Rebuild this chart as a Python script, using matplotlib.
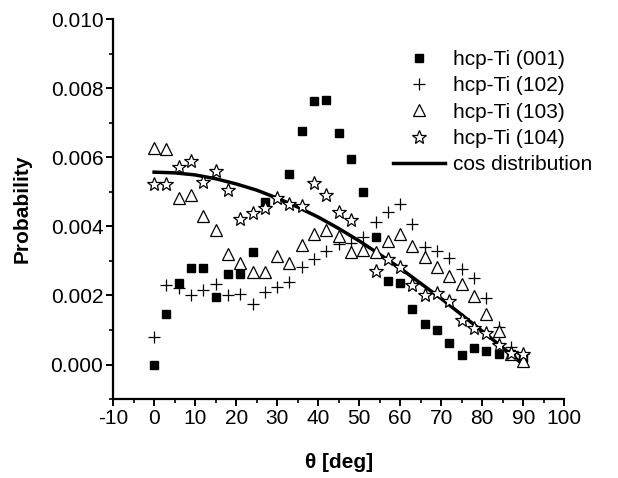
import numpy as np
import matplotlib
matplotlib.use("Agg")
import matplotlib.pyplot as plt
from matplotlib.ticker import MultipleLocator, FormatStrFormatter

plt.rcParams['font.family'] = ['Liberation Sans', 'DejaVu Sans']
plt.rcParams['axes.unicode_minus'] = False

# angle grid of the measured points
theta = np.arange(0, 91, 3)
nan = np.nan

# hcp-Ti (001)
p001 = [0.0000, 0.00146, 0.00236, 0.00281, 0.00281, 0.00195, 0.00262, 0.00262,
        0.00326, 0.00472, nan, 0.00551, 0.00676, 0.00762, 0.00766, 0.00671,
        0.00595, 0.00501, 0.00369, 0.00241, 0.00235, 0.00162, 0.00118, 0.00100,
        0.00062, 0.00028, 0.00048, 0.00038, 0.00030, 0.00030, 0.00020]
# hcp-Ti (102)
p102 = [0.00080, 0.00231, 0.00222, 0.00202, 0.00217, 0.00234, 0.00200, 0.00203,
        0.00176, 0.00210, 0.00226, 0.00239, 0.00283, 0.00306, 0.00330, 0.00350,
        0.00352, 0.00368, 0.00414, 0.00441, 0.00465, 0.00408, 0.00340, 0.00330,
        0.00308, 0.00277, 0.00252, 0.00194, 0.00110, 0.00050, 0.00030]
# hcp-Ti (103)
p103 = [0.00626, 0.00623, 0.00482, 0.00491, 0.00429, 0.00390, 0.00321, 0.00294,
        0.00267, 0.00267, 0.00313, 0.00294, 0.00347, 0.00379, 0.00390, 0.00371,
        0.00327, 0.00332, 0.00327, 0.00358, 0.00379, 0.00343, 0.00310, 0.00282,
        0.00257, 0.00234, 0.00199, 0.00145, 0.00096, 0.00030, 0.00010]
# hcp-Ti (104)
p104 = [0.00523, 0.00523, 0.00571, 0.00590, 0.00528, 0.00559, 0.00504, 0.00421,
        0.00438, 0.00453, 0.00483, 0.00465, 0.00460, 0.00525, 0.00492, 0.00443,
        0.00419, nan, 0.00270, 0.00306, 0.00282, 0.00231, 0.00202, 0.00207,
        0.00183, 0.00128, 0.00106, 0.00090, 0.00056, 0.00034, 0.00030]

# cos distribution curve, read every 5 deg
cos_theta = np.arange(0, 91, 5)
cos_prob = [0.00557, 0.00555, 0.00549, 0.00538, 0.00523, 0.00505, 0.00482,
            0.00456, 0.00427, 0.00394, 0.00358, 0.00319, 0.00279, 0.00235,
            0.00191, 0.00144, 0.00097, 0.00049, 0.00000]

fs = 15

fig = plt.figure(figsize=(6.18, 4.78), dpi=100)
ax = fig.add_axes([0.183, 0.165, 0.730, 0.795])

ax.plot(cos_theta, cos_prob, color='black', lw=2.5, zorder=2, label='cos distribution')
ax.plot(theta, p001, ls='none', marker='s', ms=5.5, mfc='black', mec='black', zorder=3, label='hcp-Ti (001)')
ax.plot(theta, p102, ls='none', marker='+', ms=8, mew=0.9, color='black', zorder=3, label='hcp-Ti (102)')
ax.plot(theta, p103, ls='none', marker='^', ms=9, mfc='white', mec='black', mew=0.9, zorder=4, label='hcp-Ti (103)')
ax.plot(theta, p104, ls='none', marker='*', ms=10, mfc='white', mec='black', mew=0.9, zorder=5, label='hcp-Ti (104)')

ax.set_xlim(-10, 100)
ax.set_ylim(-0.001, 0.010)
ax.xaxis.set_major_locator(MultipleLocator(10))
ax.xaxis.set_minor_locator(MultipleLocator(5))
ax.yaxis.set_major_locator(MultipleLocator(0.002))
ax.yaxis.set_minor_locator(MultipleLocator(0.001))
ax.yaxis.set_major_formatter(FormatStrFormatter('%.3f'))

for s in ['top', 'right']:
    ax.spines[s].set_visible(False)
for s in ['left', 'bottom']:
    ax.spines[s].set_linewidth(1.6)
ax.tick_params(which='major', direction='out', length=5, width=1.4, labelsize=fs, pad=2)
ax.tick_params(which='minor', direction='out', length=3, width=1.2)

ax.set_xlabel('θ [deg]', fontsize=fs, fontweight='bold', labelpad=18)
ax.set_ylabel('Probability', fontsize=fs, fontweight='bold', labelpad=14)

handles, labels = ax.get_legend_handles_labels()
order = [1, 2, 3, 4, 0]
fig.legend([handles[i] for i in order], [labels[i] for i in order],
           loc='upper left', bbox_to_anchor=(393 / 618, 1 - 50 / 478),
           frameon=False, fontsize=fs, borderpad=0, borderaxespad=0,
           handlelength=2.5, handletextpad=0.4, labelspacing=0.35, numpoints=1)

fig.savefig('out.png', dpi=100)
